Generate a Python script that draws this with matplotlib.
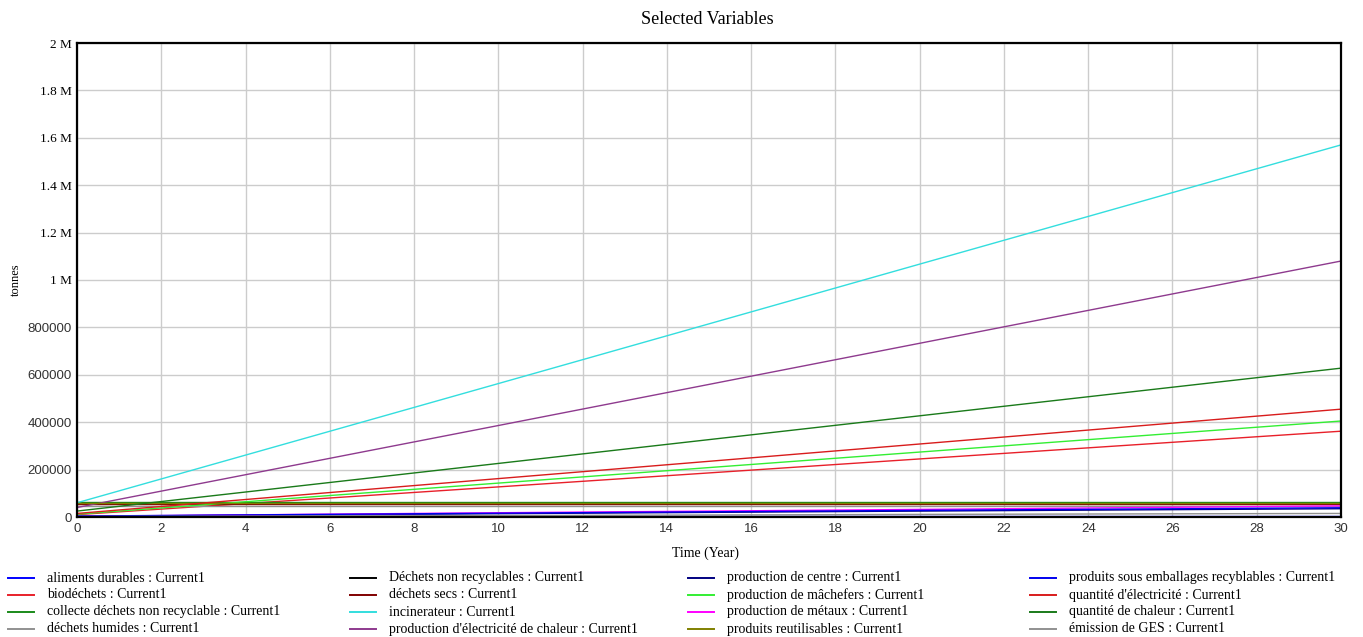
import matplotlib
matplotlib.use("Agg")
import matplotlib.pyplot as plt
from matplotlib.lines import Line2D
from matplotlib.ticker import MultipleLocator, FuncFormatter

# Données (valeurs à t = 0, 10, 20, 30)
time = [0, 10, 20, 30]

aliments_durables = [5000, 5000, 5000, 5000]
biodechets = [10000, 127000, 245000, 362000]
collecte_non_recyclable = [62000, 62000, 62000, 62000]
dechets_humides = [48000, 48000, 48000, 48000]
dechets_non_recyclables = [1000, 1000, 1000, 1000]
dechets_secs = [53000, 53000, 53000, 53000]
incinerateur = [60000, 563000, 1067000, 1570000]
prod_elec_chaleur = [40000, 386000, 733000, 1080000]
production_centre = [3000, 14000, 25000, 35000]
production_machefers = [12000, 143000, 274000, 405000]
production_metaux = [3000, 18000, 32000, 47000]
produits_reutilisables = [58000, 58000, 58000, 58000]
produits_emballages = [4000, 16000, 28000, 39000]
quantite_electricite = [15000, 162000, 308000, 455000]
quantite_chaleur = [25000, 226000, 427000, 628000]
emission_ges = [2000, 6000, 11000, 15000]

labels = [
    "aliments durables : Current1",
    "biodéchets : Current1",
    "collecte déchets non recyclable : Current1",
    "déchets humides : Current1",
    "Déchets non recyclables : Current1",
    "déchets secs : Current1",
    "incinerateur : Current1",
    "production d'électricité de chaleur : Current1",
    "production de centre : Current1",
    "production de mâchefers : Current1",
    "production de métaux : Current1",
    "produits reutilisables : Current1",
    "produits sous emballages recyblables : Current1",
    "quantité d'électricité : Current1",
    "quantité de chaleur : Current1",
    "émission de GES : Current1",
]
series = [
    aliments_durables, biodechets, collecte_non_recyclable, dechets_humides,
    dechets_non_recyclables, dechets_secs, incinerateur, prod_elec_chaleur,
    production_centre, production_machefers, production_metaux, produits_reutilisables,
    produits_emballages, quantite_electricite, quantite_chaleur, emission_ges,
]
colors = [
    "#0000ff", "#e8202a", "#1a8a1a", "#909090",
    "#000000", "#800000", "#33dede", "#8e3a8e",
    "#000080", "#33ee33", "#ff00ff", "#808000",
    "#0000ee", "#d81c1c", "#1a7a1a", "#909090",
]

W, H = 1363, 637
fig = plt.figure(figsize=(W / 100, H / 100), dpi=100)
ax = fig.add_axes([77 / W, 1 - 517 / H, (1341 - 77) / W, (517 - 43) / H])

for vals, c in zip(series, colors):
    ax.plot(time, vals, color=c, linewidth=1.0)

ax.set_xlim(0, 30)
ax.set_ylim(0, 2000000)
ax.xaxis.set_major_locator(MultipleLocator(2))
ax.yaxis.set_major_locator(MultipleLocator(200000))


def fmt(v, pos):
    if v >= 1000000:
        return f"{v / 1e6:g} M"
    return f"{int(v)}"


ax.yaxis.set_major_formatter(FuncFormatter(fmt))
ax.grid(True, color="#cccccc", linewidth=1.0)
ax.tick_params(length=0, pad=4, labelsize=9.5, colors="#333333")
for sp in ax.spines.values():
    sp.set_color("black")
    sp.set_linewidth(1.6)

fig.canvas.draw()
for lab in ax.get_yticklabels():
    if "M" in lab.get_text():
        lab.set_fontfamily("Liberation Serif")
        lab.set_color("black")
    else:
        lab.set_fontfamily("Liberation Sans")
for lab in ax.get_xticklabels():
    lab.set_fontfamily("Liberation Sans")

fig.text(707 / W, 1 - 20 / H, "Selected Variables", ha="center", va="center",
         fontsize=13, family="Liberation Serif")
fig.text(705 / W, 1 - 553 / H, "Time (Year)", ha="center", va="center",
         fontsize=10, family="Liberation Serif")
fig.text(16 / W, 1 - 280 / H, "tonnes", ha="center", va="center", rotation=90,
         fontsize=9, family="Liberation Serif")

# légende manuelle, 4 colonnes
col_x = [8, 350, 688, 1030]
row_y = [578, 595, 612, 629]
for i, (lab, c) in enumerate(zip(labels, colors)):
    col, row = divmod(i, 4)
    x0 = col_x[col]
    y = 1 - row_y[row] / H
    fig.add_artist(Line2D([x0 / W, (x0 + 26) / W], [y, y], color=c, linewidth=1.4))
    fig.text((x0 + 39) / W, y, lab, ha="left", va="center", fontsize=10,
             family="Liberation Serif")

fig.savefig("out.png", dpi=100, facecolor="white")
